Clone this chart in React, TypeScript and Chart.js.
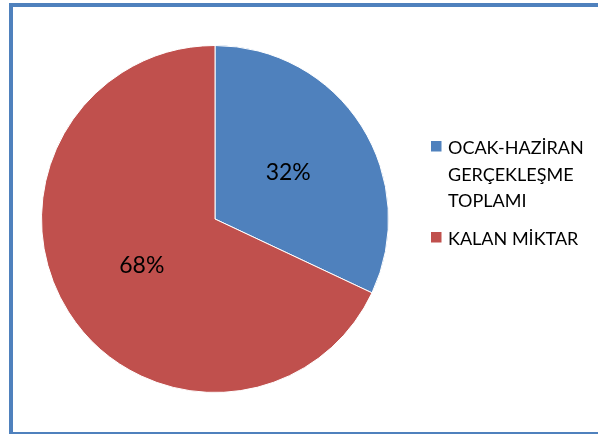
import React, { useEffect, useRef } from "react";
import { Chart, registerables } from "chart.js";

Chart.register(...registerables);

// ---- Data ----
const categories: string[][] = [
  ["OCAK-HAZİRAN", "GERÇEKLEŞME", "TOPLAMI"],
  ["KALAN MİKTAR"],
];
const values: number[] = [32, 68];
const percentLabels: string[] = ["32%", "68%"];
const sliceColors: string[] = ["#4F81BD", "#C0504D"];

const FONT = "Lato, 'Open Sans', sans-serif";

const overlayPlugin = {
  id: "overlay",
  afterDatasetsDraw(chart: any) {
    const ctx: CanvasRenderingContext2D = chart.ctx;
    const meta = chart.getDatasetMeta(0);
    ctx.save();
    // data labels
    ctx.fillStyle = "#000";
    ctx.font = `23px ${FONT}`;
    ctx.textAlign = "center";
    ctx.textBaseline = "middle";
    meta.data.forEach((arc: any, i: number) => {
      const p = arc.tooltipPosition();
      ctx.fillText(percentLabels[i], p.x, p.y);
    });
    // legend
    ctx.textAlign = "left";
    ctx.textBaseline = "alphabetic";
    ctx.font = `18px ${FONT}`;
    const baselines = [154, 245];
    const lineGap = 26.5;
    categories.forEach((lines, i) => {
      const base = baselines[i];
      ctx.fillStyle = sliceColors[i];
      ctx.fillRect(431, base - 13, 10.5, 10.5);
      ctx.fillStyle = "#000";
      lines.forEach((ln, j) => ctx.fillText(ln, 448, base + j * lineGap));
    });
    ctx.restore();
  },
};

export default function App() {
  const canvasRef = useRef<HTMLCanvasElement | null>(null);

  useEffect(() => {
    const canvas = canvasRef.current;
    if (!canvas) return;
    const chart = new Chart(canvas, {
      type: "pie",
      data: {
        labels: categories.map((c) => c.join(" ")),
        datasets: [
          {
            data: values,
            backgroundColor: sliceColors,
            borderColor: "#ffffff",
            borderWidth: 1,
          },
        ],
      },
      options: {
        responsive: false,
        animation: false,
        devicePixelRatio: 1,
        layout: { padding: { left: 41, right: 209, top: 45, bottom: 41 } },
        plugins: {
          legend: { display: false },
          tooltip: { enabled: false },
        },
      },
      plugins: [overlayPlugin],
    });
    return () => chart.destroy();
  }, []);

  return (
    <div
      style={{
        position: "fixed",
        left: 0,
        top: 0,
        width: 598,
        height: 434,
        overflow: "hidden",
        background: "#fff",
      }}
    >
      <div
        style={{
          position: "absolute",
          left: 9,
          top: 3,
          width: 700,
          height: 431,
          boxSizing: "border-box",
          borderLeft: "4px solid #4F81BD",
          borderTop: "4px solid #4F81BD",
          borderBottom: "2px solid #4F81BD",
        }}
      />
      <canvas
        ref={canvasRef}
        width={598}
        height={434}
        style={{ position: "absolute", left: 0, top: 0, width: 598, height: 434 }}
      />
    </div>
  );
}
